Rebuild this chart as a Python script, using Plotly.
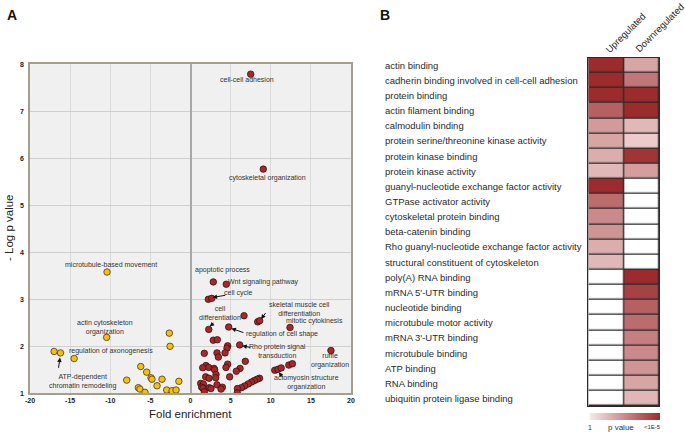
import plotly.graph_objects as go

# ---------------- Panel A data ----------------
up_x = [7.5, 9.07, 2.84, 4.46, 2.22, 2.64, 6.67, 8.37, 8.62, 12.4, 2.27, 4.76,
        2.84, 3.34, 6.13, 4.63, 4.55, 17.5, 1.72, 3.30, 4.30, 3.47, 6.83, 4.63,
        4.42, 1.93, 2.27, 1.52, 2.93, 3.01, 6.17, 5.71, 3.18, 3.14, 4.88, 1.89,
        2.31, 8.6, 8.3, 7.95, 7.6, 7.2, 6.75, 6.35, 5.85, 5.83, 1.27, 1.6, 3.30,
        1.39, 1.56, 2.34, 2.55, 3.97, 3.80, 1.72, 10.5, 10.9, 11.3, 12.25, 12.7]
up_y = [7.79, 5.77, 3.37, 3.32, 3.0, 3.02, 2.65, 2.52, 2.545, 2.40, 2.36, 2.41,
        2.13, 2.14, 2.03, 2.01, 1.96, 1.91, 1.85, 1.86, 1.86, 1.77, 1.68, 1.62,
        1.55, 1.59, 1.55, 1.545, 1.53, 1.50, 1.53, 1.47, 1.40, 1.33, 1.35, 1.35,
        1.32, 1.32, 1.30, 1.27, 1.24, 1.20, 1.155, 1.12, 1.10, 1.01, 1.21, 1.20, 1.18,
        1.13, 1.11, 1.12, 1.10, 1.13, 1.09, 1.03, 1.49, 1.51, 1.54, 1.60, 1.63]

down_x = [-17.0, -16.2, -14.5, -10.45, -10.4, -2.64, -2.55, -6.2, -5.46, -4.92,
          -4.8, -7.95, -3.55, -4.17, -1.45, -6.5, -6.3, -5.67, -2.97, -2.3, -1.8]
down_y = [1.89, 1.86, 1.74, 2.19, 3.58, 2.28, 2.0, 1.57, 1.45, 1.33,
          1.30, 1.28, 1.30, 1.16, 1.255, 1.12, 1.09, 1.02, 1.07, 1.055, 1.07]

x_ticks = [-20, -15, -10, -5, 0, 5, 10, 15, 20]
y_ticks = [1, 2, 3, 4, 5, 6, 7, 8]

# ---------------- Panel B data ----------------
terms = ["actin binding", "cadherin binding involved in cell-cell adhesion",
         "protein binding", "actin filament binding", "calmodulin binding",
         "protein serine/threonine kinase activity", "protein kinase binding",
         "protein kinase activity", "guanyl-nucleotide exchange factor activity",
         "GTPase activator activity", "cytoskeletal protein binding",
         "beta-catenin binding", "Rho guanyl-nucleotide exchange factor activity",
         "structural constituent of cytoskeleton", "poly(A) RNA binding",
         "mRNA 5'-UTR binding", "nucleotide binding", "microtubule motor activity",
         "mRNA 3'-UTR binding", "microtubule binding", "ATP binding", "RNA binding",
         "ubiquitin protein ligase binding"]
conditions = ["Upregulated", "Downregulated"]
upregulated = [1.0, 1.0, 1.0, 0.72, 0.42, 0.36, 0.32, 0.26, 1.0, 0.66, 0.5, 0.45,
               0.32, 0.26, 0, 0, 0, 0, 0, 0, 0, 0, 0]
downregulated = [0.36, 0.6, 1.0, 1.0, 0.26, 0.16, 0.95, 0.4, 0, 0, 0, 0, 0, 0,
                 1.0, 0.88, 0.72, 0.66, 0.56, 0.5, 0.45, 0.36, 0.27]

W, H = 685, 432
def px(xp):
    return xp / W
def py(yp):
    return 1 - yp / H

FONT = "Arial, Liberation Sans, sans-serif"
fig = go.Figure()

# scatter panel
fig.add_trace(go.Scatter(x=down_x, y=down_y, mode="markers", xaxis="x", yaxis="y",
                         marker=dict(color="#f3bf12", size=6.5,
                                     line=dict(color="#4a3a10", width=0.8)),
                         showlegend=False, hoverinfo="skip"))
fig.add_trace(go.Scatter(x=up_x, y=up_y, mode="markers", xaxis="x", yaxis="y",
                         marker=dict(color="#a8282a", size=6.5,
                                     line=dict(color="#3a1010", width=0.8)),
                         showlegend=False, hoverinfo="skip"))

# heatmap panel
z = [[u, d] for u, d in zip(upregulated, downregulated)]
cscale = [[0, "#ffffff"], [0.02, "#f8e6e6"], [1, "#9b2b2c"]]
fig.add_trace(go.Heatmap(z=z, x=conditions, y=terms, xaxis="x2", yaxis="y2",
                         colorscale=cscale, zmin=0, zmax=1, xgap=1.3, ygap=1.3,
                         hoverinfo="skip",
                         colorbar=dict(orientation="h", x=px(624.5), xanchor="center",
                                       y=py(412.5), yanchor="top", yref="paper",
                                       len=71, lenmode="pixels", thickness=7,
                                       outlinewidth=0, showticklabels=False, ticks="",
                                       xpad=0, ypad=0)))

annots = []
lab_font = dict(family=FONT, size=7, color="#333333")
labels = [
    ("cell-cell adhesion", 7.0, 7.68),
    ("cytoskeletal organization", 9.57, 5.59),
    ("microtubule-based movement", -9.95, 3.75),
    ("apoptotic process", 4.01, 3.63),
    ("Wnt signaling pathway", 9.07, 3.37),
    ("cell cycle", 5.96, 3.13),
    ("cell<br>differentiation", 3.68, 2.70),
    ("skeletal muscle cell<br>differentiation", 13.6, 2.80),
    ("mitotic cytokinesis", 15.4, 2.54),
    ("regulation of cell shape", 11.4, 2.26),
    ("Rho protein signal<br>transduction", 10.8, 1.91),
    ("ruffle<br>organization", 17.4, 1.69),
    ("actomyosin structure<br>organization", 14.4, 1.24),
    ("actin cytoskeleton<br>organization", -10.7, 2.41),
    ("regulation of axonogenesis", -9.9, 1.90),
    ("ATP-dependent<br>chromatin remodeling", -13.5, 1.25),
]
for t, x, y in labels:
    annots.append(dict(text=t, x=x, y=y, xref="x", yref="y", showarrow=False,
                       font=lab_font, xanchor="center", yanchor="middle"))

arrows = [  # (tail x, tail y, head x, head y)
    (4.51, 3.09, 2.75, 3.04),
    (3.05, 2.52, 2.4, 2.42),
    (9.5, 2.74, 8.8, 2.58),
    (6.79, 2.28, 5.1, 2.38),
    (7.62, 1.97, 6.45, 2.01),
    (11.56, 1.32, 11.0, 1.45),
    (-16.47, 1.51, -16.26, 1.76),
]
for tx, ty, hx, hy in arrows:
    annots.append(dict(text="", x=hx, y=hy, ax=tx, ay=ty, xref="x", yref="y",
                       axref="x", ayref="y", showarrow=True, arrowhead=2,
                       arrowsize=0.9, arrowwidth=1, arrowcolor="#111111"))

def paper_text(text, xp, yp, size, color="#2a2a2a", angle=0):
    return dict(text=text, x=px(xp), y=py(yp), xref="paper", yref="paper",
                showarrow=False, xanchor="center", yanchor="middle", textangle=angle,
                font=dict(family=FONT, size=size, color=color))

# row labels for heatmap
for t in terms:
    annots.append(dict(text=t, x=px(382.5), y=t, xref="paper", yref="y2",
                       showarrow=False, xanchor="left", yanchor="middle",
                       font=dict(family=FONT, size=9.5, color="#2a2a2a")))
# column headers
annots.append(paper_text("Upregulated", 626, 33, 9.5, angle=-45))
annots.append(paper_text("Downregulated", 660, 28, 9.5, angle=-45))
# colorbar labels
annots.append(paper_text("1", 590, 427, 7, "#333333"))
annots.append(paper_text("p value", 621, 427, 8, "#333333"))
annots.append(paper_text("<1E-5", 652, 427, 6, "#333333"))
# panel letters
annots.append(paper_text("<b>A</b>", 12, 15, 14, "#111111"))
annots.append(paper_text("<b>B</b>", 385, 15, 14, "#111111"))
# axis titles
annots.append(paper_text("Fold enrichment", 190.5, 414, 11.5, "#222222"))
annots.append(paper_text("- Log p value", 9, 228, 11.5, "#222222", angle=-90))

shapes = [dict(type="rect", xref="x2", yref="y2", x0=-0.5, x1=1.5, y0=-0.5, y1=len(terms) - 0.5,
               fillcolor="#2a2a2a", line=dict(width=0), layer="below")]

fig.update_layout(
    width=W, height=H, margin=dict(l=0, r=0, t=0, b=0, autoexpand=False),
    paper_bgcolor="white", plot_bgcolor="#f0f0f0",
    font=dict(family=FONT, color="#222"),
    xaxis=dict(domain=[px(30), px(351)], range=[-20, 20], tickvals=x_ticks,
               ticktext=[f"<b>{v}</b>" for v in x_ticks], tickfont=dict(size=7),
               showgrid=True, gridcolor="#dadada", gridwidth=1,
               zeroline=True, zerolinecolor="#a8a8a8", zerolinewidth=1.5,
               showline=True, mirror=True, linecolor="#a49e8c", linewidth=1.5,
               ticks="", anchor="y", automargin=False),
    yaxis=dict(domain=[py(393.3), py(64.3)], range=[1, 8], tickvals=y_ticks,
               ticktext=[f"<b>{v}</b>" for v in y_ticks], tickfont=dict(size=7),
               showgrid=True, gridcolor="#cfcfcf", gridwidth=1.2, zeroline=False,
               showline=True, mirror=True, linecolor="#a49e8c", linewidth=1.5,
               ticks="", anchor="x", automargin=False, ticklabelstandoff=3),
    xaxis2=dict(domain=[px(588.3), px(659.3)], range=[-0.5, 1.5], showticklabels=False,
                showgrid=False, zeroline=False, ticks="", anchor="y2", automargin=False,
                showline=True, mirror=True, linecolor="#2a2a2a", linewidth=1.2),
    yaxis2=dict(domain=[py(406), py(57.7)], range=[len(terms) - 0.5, -0.5],
                showticklabels=False, showgrid=False, zeroline=False, ticks="",
                anchor="x2", automargin=False,
                showline=True, mirror=True, linecolor="#2a2a2a", linewidth=1.2),
    annotations=annots, shapes=shapes,
)

fig.write_html("out.html", config={"displayModeBar": False},
               post_script="document.body.style.margin='0';document.body.style.overflow='hidden';")
